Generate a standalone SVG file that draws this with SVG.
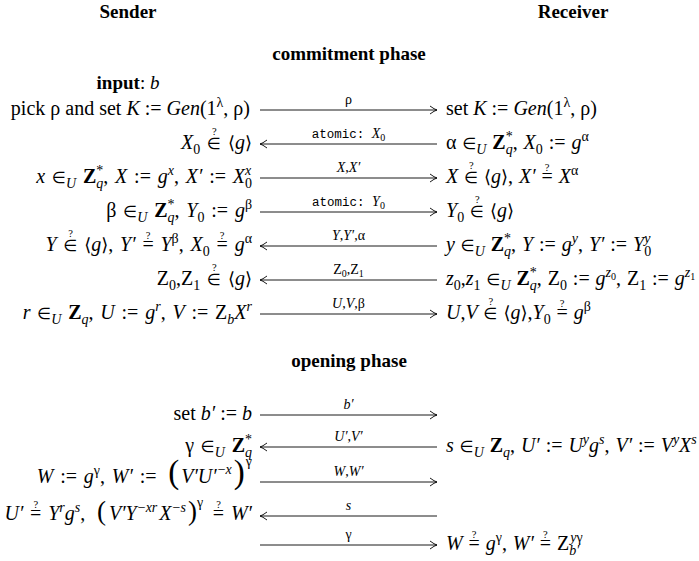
<svg xmlns="http://www.w3.org/2000/svg" width="699" height="561" viewBox="0 0 699 561" font-family="'Liberation Serif', 'Times New Roman', serif">
<style>
text{font-family:'Liberation Serif','Times New Roman',serif}
.t{font-size:20px;fill:#000}
.w{word-spacing:1.8px}
.v{word-spacing:0.9px}
.r{text-anchor:end}
.i{font-style:italic}
.b{font-weight:bold}
.s{font-size:14px}
.ss{font-size:10px}
.q{font-size:10.5px}
.e{font-family:'DejaVu Sans',sans-serif;font-size:16px}
.a{font-family:'DejaVu Sans',sans-serif;font-size:18px}
.m{font-family:'Liberation Mono',monospace;font-size:12.5px}
.l{font-size:14px;text-anchor:middle}
.h{font-weight:bold;font-size:19px;text-anchor:middle}
.c line{stroke:#000;stroke-width:0.9}
.rt{marker-end:url(#ah)}
.lt{marker-start:url(#ahl)}
</style>
<defs>
<marker id="ah" viewBox="-8 -5 10 10" refX="0" refY="0" markerWidth="10" markerHeight="10" markerUnits="userSpaceOnUse" orient="auto">
<path d="M-7,-4 Q-2.5,-0.6 0,0 Q-2.5,0.6 -7,4" fill="none" stroke="#000" stroke-width="0.9"/>
</marker>
<marker id="ahl" viewBox="-2 -5 10 10" refX="0" refY="0" markerWidth="10" markerHeight="10" markerUnits="userSpaceOnUse" orient="auto">
<path d="M7,-4 Q2.5,-0.6 0,0 Q2.5,0.6 7,4" fill="none" stroke="#000" stroke-width="0.9"/>
</marker>
</defs>
<rect width="699" height="561" fill="#fff"/>

<g id="headings">
<text class="t h" x="128" y="18">Sender</text>
<text class="t h" x="573" y="18">Receiver</text>
<text class="t h" x="349" y="60">commitment phase</text>
<text class="t h" x="349" y="367">opening phase</text>
</g>

<g id="sender-input"><text class="t" x="128" y="89" text-anchor="middle" style="font-size:19px"><tspan class="b">input</tspan>: <tspan class="i">b</tspan></text></g>

<g id="connectors" class="c">
<line class="rt" x1="260" y1="110" x2="437" y2="110"/>
<line class="lt" x1="260" y1="144" x2="437" y2="144"/>
<line class="rt" x1="260" y1="178" x2="437" y2="178"/>
<line class="rt" x1="260" y1="212" x2="437" y2="212"/>
<line class="lt" x1="260" y1="246" x2="437" y2="246"/>
<line class="lt" x1="260" y1="280" x2="437" y2="280"/>
<line class="rt" x1="260" y1="314" x2="437" y2="314"/>
<line class="rt" x1="260" y1="415" x2="437" y2="415"/>
<line class="lt" x1="260" y1="447" x2="437" y2="447"/>
<line class="rt" x1="260" y1="482" x2="437" y2="482"/>
<line class="lt" x1="260" y1="516" x2="437" y2="516"/>
<line class="rt" x1="260" y1="545" x2="437" y2="545"/>
<text class="t l" x="348.5" y="104">ρ</text>
<text class="t l" x="348.5" y="138"><tspan class="m">atomic: </tspan><tspan class="i">X</tspan><tspan class="ss" dy="3">0</tspan></text>
<text class="t l" x="348.5" y="172"><tspan class="i">X</tspan>,<tspan class="i">X′</tspan></text>
<text class="t l" x="348.5" y="206"><tspan class="m">atomic: </tspan><tspan class="i">Y</tspan><tspan class="ss" dy="3">0</tspan></text>
<text class="t l" x="348.5" y="240"><tspan class="i">Y</tspan>,<tspan class="i">Y′</tspan>,α</text>
<text class="t l" x="348.5" y="274">Z<tspan class="ss" dy="3">0</tspan><tspan dy="-3">,Z</tspan><tspan class="ss" dy="3">1</tspan></text>
<text class="t l" x="348.5" y="308"><tspan class="i">U</tspan>,<tspan class="i">V</tspan>,β</text>
<text class="t l" x="348.5" y="409"><tspan class="i">b′</tspan></text>
<text class="t l" x="348.5" y="441"><tspan class="i">U′</tspan>,<tspan class="i">V′</tspan></text>
<text class="t l" x="348.5" y="476"><tspan class="i">W</tspan>,<tspan class="i">W′</tspan></text>
<text class="t l" x="348.5" y="510"><tspan class="i">s</tspan></text>
<text class="t l" x="348.5" y="539">γ</text>
</g>

<g id="sender-r1"><text class="t r" x="250" y="115">pick ρ and set <tspan class="i">K</tspan> := <tspan class="i">Gen</tspan>(1<tspan class="s" dy="-8">λ</tspan><tspan dy="8">, ρ)</tspan></text></g>
<g id="receiver-r1"><text class="t" x="446" y="115">set <tspan class="i">K</tspan> := <tspan class="i">Gen</tspan>(1<tspan class="s" dy="-8">λ</tspan><tspan dy="8">, ρ)</tspan></text></g>

<g id="sender-r2"><text class="t r w" x="252" y="149"><tspan class="i">X</tspan><tspan class="s" dy="4.5">0</tspan><tspan dy="-4.5"> </tspan><tspan class="e">∈</tspan><tspan class="q" dx="-9" dy="-14">?</tspan><tspan dx="4.4" dy="14"> </tspan><tspan class="a">⟨</tspan><tspan class="i">g</tspan><tspan class="a">⟩</tspan></text></g>
<g id="receiver-r2"><text class="t v" x="446" y="149">α <tspan class="e">∈</tspan><tspan class="s i" dy="4.5">U</tspan><tspan dy="-4.5"> </tspan><tspan class="b">Z</tspan><tspan class="s" dy="-8">*</tspan><tspan class="s i" dx="-7" dy="12.5">q</tspan><tspan dy="-4.5">, </tspan><tspan class="i">X</tspan><tspan class="s" dy="4.5">0</tspan><tspan dy="-4.5"> := </tspan><tspan class="i">g</tspan><tspan class="s" dy="-8">α</tspan></text></g>

<g id="sender-r3"><text class="t r w" x="252" y="183"><tspan class="i">x</tspan> <tspan class="e">∈</tspan><tspan class="s i" dy="4.5">U</tspan><tspan dy="-4.5"> </tspan><tspan class="b">Z</tspan><tspan class="s" dy="-8">*</tspan><tspan class="s i" dx="-7" dy="12.5">q</tspan><tspan dy="-4.5">, </tspan><tspan class="i">X</tspan> := <tspan class="i">g</tspan><tspan class="s i" dy="-8">x</tspan><tspan dy="8">, </tspan><tspan class="i">X′</tspan> := <tspan class="i">X</tspan><tspan class="s" dy="4.5">0</tspan><tspan class="s i" dx="-7" dy="-12.5">x</tspan></text></g>
<g id="receiver-r3"><text class="t v" x="446" y="183"><tspan class="i">X</tspan> <tspan class="e">∈</tspan><tspan class="q" dx="-9" dy="-14">?</tspan><tspan dx="4.4" dy="14"> </tspan><tspan class="a">⟨</tspan><tspan class="i">g</tspan><tspan class="a">⟩</tspan>, <tspan class="i">X′</tspan> =<tspan class="q" dx="-8" dy="-12">?</tspan><tspan dx="3.3" dy="12"> </tspan><tspan class="i">X</tspan><tspan class="s" dy="-8">α</tspan></text></g>

<g id="sender-r4"><text class="t r w" x="252" y="217">β <tspan class="e">∈</tspan><tspan class="s i" dy="4.5">U</tspan><tspan dy="-4.5"> </tspan><tspan class="b">Z</tspan><tspan class="s" dy="-8">*</tspan><tspan class="s i" dx="-7" dy="12.5">q</tspan><tspan dy="-4.5">, </tspan><tspan class="i">Y</tspan><tspan class="s" dy="4.5">0</tspan><tspan dy="-4.5"> := </tspan><tspan class="i">g</tspan><tspan class="s" dy="-8">β</tspan></text></g>
<g id="receiver-r4"><text class="t v" x="446" y="217"><tspan class="i">Y</tspan><tspan class="s" dy="4.5">0</tspan><tspan dy="-4.5"> </tspan><tspan class="e">∈</tspan><tspan class="q" dx="-9" dy="-14">?</tspan><tspan dx="4.4" dy="14"> </tspan><tspan class="a">⟨</tspan><tspan class="i">g</tspan><tspan class="a">⟩</tspan></text></g>

<g id="sender-r5"><text class="t r w" x="252" y="251"><tspan class="i">Y</tspan> <tspan class="e">∈</tspan><tspan class="q" dx="-9" dy="-14">?</tspan><tspan dx="4.4" dy="14"> </tspan><tspan class="a">⟨</tspan><tspan class="i">g</tspan><tspan class="a">⟩</tspan>, <tspan class="i">Y′</tspan> =<tspan class="q" dx="-8" dy="-12">?</tspan><tspan dx="3.3" dy="12"> </tspan><tspan class="i">Y</tspan><tspan class="s" dy="-8">β</tspan><tspan dy="8">, </tspan><tspan class="i">X</tspan><tspan class="s" dy="4.5">0</tspan><tspan dy="-4.5"> =</tspan><tspan class="q" dx="-8" dy="-12">?</tspan><tspan dx="3.3" dy="12"> </tspan><tspan class="i">g</tspan><tspan class="s" dy="-8">α</tspan></text></g>
<g id="receiver-r5"><text class="t v" x="446" y="251"><tspan class="i">y</tspan> <tspan class="e">∈</tspan><tspan class="s i" dy="4.5">U</tspan><tspan dy="-4.5"> </tspan><tspan class="b">Z</tspan><tspan class="s" dy="-8">*</tspan><tspan class="s i" dx="-7" dy="12.5">q</tspan><tspan dy="-4.5">, </tspan><tspan class="i">Y</tspan> := <tspan class="i">g</tspan><tspan class="s i" dy="-8">y</tspan><tspan dy="8">, </tspan><tspan class="i">Y′</tspan> := <tspan class="i">Y</tspan><tspan class="s" dy="4.5">0</tspan><tspan class="s i" dx="-7" dy="-12.5">y</tspan></text></g>

<g id="sender-r6"><text class="t r w" x="252" y="285">Z<tspan class="s" dy="4.5">0</tspan><tspan dy="-4.5">,Z</tspan><tspan class="s" dy="4.5">1</tspan><tspan dy="-4.5"> </tspan><tspan class="e">∈</tspan><tspan class="q" dx="-9" dy="-14">?</tspan><tspan dx="4.4" dy="14"> </tspan><tspan class="a">⟨</tspan><tspan class="i">g</tspan><tspan class="a">⟩</tspan></text></g>
<g id="receiver-r6"><text class="t v" x="446" y="285"><tspan class="i">z</tspan><tspan class="s" dy="4.5">0</tspan><tspan dy="-4.5">,</tspan><tspan class="i">z</tspan><tspan class="s" dy="4.5">1</tspan><tspan dy="-4.5"> </tspan><tspan class="e">∈</tspan><tspan class="s i" dy="4.5">U</tspan><tspan dy="-4.5"> </tspan><tspan class="b">Z</tspan><tspan class="s" dy="-8">*</tspan><tspan class="s i" dx="-7" dy="12.5">q</tspan><tspan dy="-4.5">, Z</tspan><tspan class="s" dy="4.5">0</tspan><tspan dy="-4.5"> := </tspan><tspan class="i">g</tspan><tspan class="s i" dy="-8">z</tspan><tspan class="ss" dy="2.5">0</tspan><tspan dy="5.5">, Z</tspan><tspan class="s" dy="4.5">1</tspan><tspan dy="-4.5"> := </tspan><tspan class="i">g</tspan><tspan class="s i" dy="-8">z</tspan><tspan class="ss" dy="2.5">1</tspan></text></g>

<g id="sender-r7"><text class="t r w" x="252" y="319"><tspan class="i">r</tspan> <tspan class="e">∈</tspan><tspan class="s i" dy="4.5">U</tspan><tspan dy="-4.5"> </tspan><tspan class="b">Z</tspan><tspan class="s i" dy="4.5">q</tspan><tspan dy="-4.5">, </tspan><tspan class="i">U</tspan> := <tspan class="i">g</tspan><tspan class="s i" dy="-8">r</tspan><tspan dy="8">, </tspan><tspan class="i">V</tspan> := Z<tspan class="s i" dy="4.5">b</tspan><tspan class="i" dy="-4.5">X</tspan><tspan class="s i" dy="-8">r</tspan></text></g>
<g id="receiver-r7"><text class="t v" x="446" y="319"><tspan class="i">U</tspan>,<tspan class="i">V</tspan> <tspan class="e">∈</tspan><tspan class="q" dx="-9" dy="-14">?</tspan><tspan dx="4.4" dy="14"> </tspan><tspan class="a">⟨</tspan><tspan class="i">g</tspan><tspan class="a">⟩</tspan>,<tspan class="i">Y</tspan><tspan class="s" dy="4.5">0</tspan><tspan dy="-4.5"> =</tspan><tspan class="q" dx="-8" dy="-12">?</tspan><tspan dx="3.3" dy="12"> </tspan><tspan class="i">g</tspan><tspan class="s" dy="-8">β</tspan></text></g>

<g id="sender-r8"><text class="t r" x="252" y="420">set <tspan class="i">b′</tspan> := <tspan class="i">b</tspan></text></g>

<g id="sender-r9"><text class="t r w" x="252" y="452">γ <tspan class="e">∈</tspan><tspan class="s i" dy="4.5">U</tspan><tspan dy="-4.5"> </tspan><tspan class="b">Z</tspan><tspan class="s" dy="-8">*</tspan><tspan class="s i" dx="-7" dy="12.5">q</tspan></text></g>
<g id="receiver-r9"><text class="t v" x="446" y="452"><tspan class="i">s</tspan> <tspan class="e">∈</tspan><tspan class="s i" dy="4.5">U</tspan><tspan dy="-4.5"> </tspan><tspan class="b">Z</tspan><tspan class="s i" dy="4.5">q</tspan><tspan dy="-4.5">, </tspan><tspan class="i">U′</tspan> := <tspan class="i">U</tspan><tspan class="s i" dy="-8">y</tspan><tspan class="i" dy="8">g</tspan><tspan class="s i" dy="-8">s</tspan><tspan dy="8">, </tspan><tspan class="i">V′</tspan> := <tspan class="i">V</tspan><tspan class="s i" dy="-8">y</tspan><tspan class="i" dy="8">X</tspan><tspan class="s i" dy="-8">s</tspan></text></g>

<g id="sender-r10"><text class="t r w" x="252" y="483"><tspan class="i">W</tspan> := <tspan class="i">g</tspan><tspan class="s" dy="-8">γ</tspan><tspan dy="8">, </tspan><tspan class="i">W′</tspan> := <tspan style="font-size:33px" dx="5">(</tspan><tspan class="i" dx="2">V′U′</tspan><tspan class="s" dy="-9" dx="1">−<tspan class="i">x</tspan></tspan><tspan style="font-size:33px" dy="9" dx="2">)</tspan><tspan class="s" dy="-17" dx="1">γ</tspan></text></g>

<g id="sender-r11"><text class="t r w" x="252" y="520"><tspan class="i">U′</tspan> =<tspan class="q" dx="-8" dy="-12">?</tspan><tspan dx="3.3" dy="12"> </tspan><tspan class="i">Y</tspan><tspan class="s i" dy="-8">r</tspan><tspan class="i" dy="8">g</tspan><tspan class="s i" dy="-8">s</tspan><tspan dy="8">, </tspan><tspan style="font-size:27px" dx="5">(</tspan><tspan class="i" dx="3">V′Y</tspan><tspan class="s" dy="-8" dx="1">−<tspan class="i">xr</tspan></tspan><tspan class="i" dy="8" dx="2">X</tspan><tspan class="s" dy="-8" dx="1">−<tspan class="i">s</tspan></tspan><tspan style="font-size:27px" dy="8" dx="2">)</tspan><tspan class="s" dy="-13">γ</tspan><tspan dy="13" dx="3"> =</tspan><tspan class="q" dx="-8" dy="-12">?</tspan><tspan dx="3.3" dy="12"> </tspan><tspan class="i">W′</tspan></text></g>

<g id="receiver-r12"><text class="t v" x="446" y="550"><tspan class="i">W</tspan> =<tspan class="q" dx="-8" dy="-12">?</tspan><tspan dx="3.3" dy="12"> </tspan><tspan class="i">g</tspan><tspan class="s" dy="-8">γ</tspan><tspan dy="8">, </tspan><tspan class="i">W′</tspan> =<tspan class="q" dx="-8" dy="-12">?</tspan><tspan dx="3.3" dy="12"> </tspan>Z<tspan class="s i" dy="5">b′</tspan><tspan class="s" dx="-9" dy="-13"><tspan class="i">y</tspan>γ</tspan></text></g>
</svg>
